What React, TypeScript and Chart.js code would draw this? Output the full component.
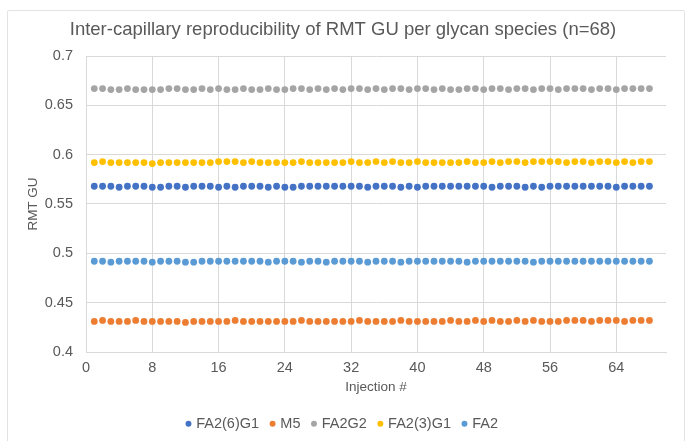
import React, { useEffect, useRef } from "react";
import { Chart, registerables } from "chart.js";

Chart.register(...registerables);

const injections = [
  1, 2, 3, 4, 5, 6, 7, 8, 9, 10,
  11, 12, 13, 14, 15, 16, 17, 18, 19, 20,
  21, 22, 23, 24, 25, 26, 27, 28, 29, 30,
  31, 32, 33, 34, 35, 36, 37, 38, 39, 40,
  41, 42, 43, 44, 45, 46, 47, 48, 49, 50,
  51, 52, 53, 54, 55, 56, 57, 58, 59, 60,
  61, 62, 63, 64, 65, 66, 67, 68,
];

const fa2_6_g1 = [
  0.568, 0.568, 0.568, 0.567, 0.568, 0.568, 0.568, 0.567, 0.567, 0.568,
  0.568, 0.567, 0.568, 0.568, 0.568, 0.567, 0.568, 0.567, 0.568, 0.568,
  0.568, 0.567, 0.568, 0.567, 0.567, 0.568, 0.568, 0.568, 0.568, 0.568,
  0.568, 0.568, 0.568, 0.567, 0.568, 0.568, 0.568, 0.567, 0.568, 0.567,
  0.568, 0.568, 0.568, 0.568, 0.568, 0.568, 0.568, 0.568, 0.567, 0.568,
  0.568, 0.568, 0.567, 0.568, 0.567, 0.568, 0.568, 0.568, 0.568, 0.568,
  0.568, 0.568, 0.568, 0.567, 0.568, 0.568, 0.568, 0.568,
];

const m5 = [
  0.431, 0.432, 0.431, 0.431, 0.431, 0.432, 0.431, 0.431, 0.431, 0.431,
  0.431, 0.430, 0.431, 0.431, 0.431, 0.431, 0.431, 0.432, 0.431, 0.431,
  0.431, 0.431, 0.431, 0.431, 0.431, 0.432, 0.431, 0.431, 0.431, 0.431,
  0.431, 0.431, 0.432, 0.431, 0.431, 0.431, 0.431, 0.432, 0.431, 0.431,
  0.431, 0.431, 0.431, 0.432, 0.431, 0.431, 0.432, 0.431, 0.432, 0.431,
  0.431, 0.432, 0.431, 0.432, 0.431, 0.431, 0.431, 0.432, 0.432, 0.432,
  0.431, 0.432, 0.432, 0.432, 0.431, 0.432, 0.432, 0.432,
];

const fa2g2 = [
  0.667, 0.667, 0.666, 0.666, 0.667, 0.666, 0.666, 0.666, 0.666, 0.667,
  0.667, 0.666, 0.666, 0.667, 0.666, 0.667, 0.666, 0.666, 0.667, 0.666,
  0.666, 0.667, 0.666, 0.666, 0.667, 0.667, 0.666, 0.667, 0.666, 0.667,
  0.666, 0.667, 0.667, 0.666, 0.667, 0.666, 0.667, 0.667, 0.666, 0.667,
  0.667, 0.666, 0.667, 0.666, 0.666, 0.667, 0.667, 0.666, 0.667, 0.667,
  0.666, 0.667, 0.667, 0.666, 0.667, 0.667, 0.666, 0.667, 0.667, 0.667,
  0.666, 0.667, 0.667, 0.666, 0.667, 0.667, 0.667, 0.667,
];

const fa2_3_g1 = [
  0.592, 0.593, 0.592, 0.592, 0.592, 0.592, 0.592, 0.591, 0.592, 0.592,
  0.592, 0.592, 0.592, 0.592, 0.592, 0.593, 0.593, 0.593, 0.592, 0.593,
  0.592, 0.592, 0.592, 0.592, 0.592, 0.593, 0.592, 0.592, 0.592, 0.592,
  0.592, 0.593, 0.592, 0.592, 0.593, 0.592, 0.593, 0.592, 0.592, 0.593,
  0.592, 0.592, 0.592, 0.592, 0.592, 0.593, 0.592, 0.592, 0.593, 0.592,
  0.593, 0.593, 0.592, 0.593, 0.593, 0.593, 0.593, 0.592, 0.593, 0.593,
  0.592, 0.593, 0.593, 0.592, 0.593, 0.592, 0.593, 0.593,
];

const fa2 = [
  0.492, 0.492, 0.491, 0.492, 0.492, 0.492, 0.492, 0.491, 0.492, 0.492,
  0.492, 0.491, 0.491, 0.492, 0.492, 0.492, 0.492, 0.492, 0.492, 0.492,
  0.492, 0.491, 0.492, 0.492, 0.492, 0.491, 0.492, 0.492, 0.491, 0.492,
  0.492, 0.492, 0.492, 0.491, 0.492, 0.492, 0.492, 0.491, 0.492, 0.492,
  0.492, 0.492, 0.492, 0.492, 0.492, 0.491, 0.492, 0.492, 0.492, 0.492,
  0.492, 0.492, 0.492, 0.491, 0.492, 0.492, 0.492, 0.492, 0.492, 0.492,
  0.492, 0.492, 0.492, 0.492, 0.492, 0.492, 0.492, 0.492,
];

const seriesNames = ["FA2(6)G1", "M5", "FA2G2", "FA2(3)G1", "FA2"];
const seriesValues = [fa2_6_g1, m5, fa2g2, fa2_3_g1, fa2];
const seriesColors = ["#4472C4", "#ED7D31", "#A5A5A5", "#FFC000", "#5B9BD5"];

const xTicks = [0, 8, 16, 24, 32, 40, 48, 56, 64];
const yTicks = [0.4, 0.45, 0.5, 0.55, 0.6, 0.65, 0.7];

const TEXT = "#595959";
const GRID = "#D9D9D9";

export default function App() {
  const ref = useRef<HTMLCanvasElement>(null);

  useEffect(() => {
    if (!ref.current) return;
    Chart.defaults.font.family = "'Liberation Sans', Arial, sans-serif";
    const chart = new Chart(ref.current, {
      type: "scatter",
      data: {
        datasets: seriesNames.map((name, i) => ({
          label: name,
          data: injections.map((x, j) => ({ x, y: seriesValues[i][j] })),
          backgroundColor: seriesColors[i],
          borderColor: seriesColors[i],
          borderWidth: 0,
          pointRadius: 3.4,
          pointHoverRadius: 3.4,
        })),
      },
      options: {
        animation: false,
        responsive: false,
        maintainAspectRatio: false,
        layout: { padding: { top: 10, left: 0, right: 0, bottom: 0 } },
        plugins: {
          title: {
            display: true,
            text: "Inter-capillary reproducibility of RMT GU per glycan species (n=68)",
            color: TEXT,
            font: { size: 18.5, weight: "normal" },
            padding: { top: 8.9, bottom: 14.9 },
          },
          legend: {
            position: "bottom",
            labels: {
              usePointStyle: true,
              pointStyle: "circle",
              boxWidth: 1,
              boxHeight: 4.2,
              padding: 13,
              color: TEXT,
              font: { size: 14.5 },
            },
          },
          tooltip: { enabled: false },
        },
        scales: {
          x: {
            type: "linear",
            min: 0,
            max: 70,
            afterBuildTicks: (scale: any) => {
              scale.ticks = xTicks.map((v) => ({ value: v }));
            },
            afterFit: (scale: any) => {
              scale.height = 51.5;
            },
            ticks: { color: TEXT, font: { size: 14.5 }, padding: 7, maxRotation: 0 },
            grid: { color: GRID, drawTicks: false },
            border: { color: GRID },
            title: {
              display: true,
              text: "Injection #",
              color: TEXT,
              font: { size: 13.5 },
              padding: { top: 0, bottom: 8.5 },
            },
          },
          y: {
            type: "linear",
            min: 0.4,
            max: 0.7,
            afterBuildTicks: (scale: any) => {
              scale.ticks = yTicks.map((v) => ({ value: v }));
            },
            afterFit: (scale: any) => {
              scale.width = 86;
            },
            ticks: {
              color: TEXT,
              font: { size: 14.5 },
              padding: 13,
              callback: (v: any) => String(Math.round(Number(v) * 100) / 100),
            },
            grid: { color: GRID, drawTicks: false },
            border: { color: GRID },
            title: {
              display: true,
              text: "RMT GU",
              color: TEXT,
              font: { size: 13.5 },
              padding: { top: 25, bottom: 0 },
            },
          },
          yRightSpace: {
            type: "linear",
            position: "right",
            min: 0.4,
            max: 0.7,
            display: true,
            afterFit: (scale: any) => {
              scale.width = 20;
            },
            ticks: { display: false },
            grid: { display: false, drawTicks: false },
            border: { display: false },
          },
        },
      },
    });
    return () => chart.destroy();
  }, []);

  return (
    <div
      style={{
        position: "fixed",
        left: 0,
        top: 0,
        width: 686,
        height: 441,
        background: "#ffffff",
        overflow: "hidden",
      }}
    >
      <div
        style={{
          position: "absolute",
          left: 7,
          top: 10,
          width: 678,
          height: 460,
          boxSizing: "border-box",
          border: "1.5px solid #E3E3E3",
          borderRadius: 2,
        }}
      />
      <canvas
        ref={ref}
        width={686}
        height={441}
        style={{ position: "absolute", left: 0, top: 0, width: 686, height: 441 }}
      />
    </div>
  );
}
